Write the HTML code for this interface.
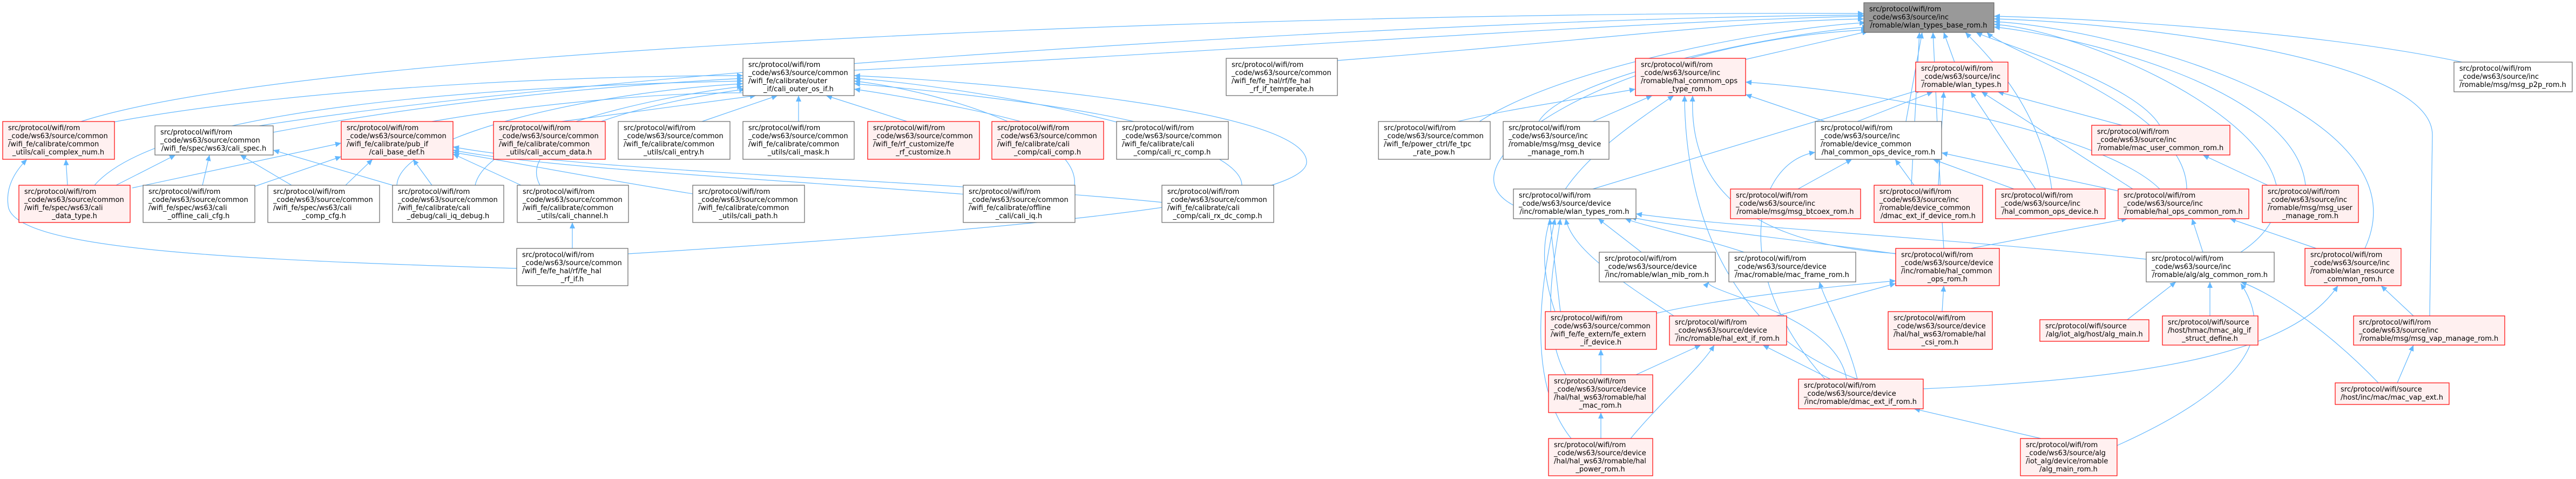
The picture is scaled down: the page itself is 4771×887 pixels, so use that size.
<!DOCTYPE html>
<html><head><meta charset="utf-8">
<style>
html,body{margin:0;padding:0;background:#fff;}
svg{display:block;}
text{font-family:"DejaVu Sans","Liberation Sans",sans-serif;font-size:13px;fill:#000;}
.w{fill:#fff;stroke:#666;stroke-width:1.2;}
.r{fill:#fff0f0;stroke:#f00;stroke-width:1.2;}
.g{fill:#999;stroke:#666;stroke-width:1.2;}
.e{fill:none;stroke:#63b8ff;stroke-width:1.2;marker-end:url(#ah);}
</style></head>
<body>
<svg width="4771" height="887" viewBox="0 0 4771 887" xmlns="http://www.w3.org/2000/svg">
<defs><marker id="ah" markerUnits="userSpaceOnUse" markerWidth="12" markerHeight="10" refX="11" refY="5" orient="auto"><path d="M0,0 L11,5 L0,10 z" fill="#63b8ff"/></marker></defs>

<g>
<!-- edges to A -->
<path class="e" d="M1582 130 C2200 100 3000 40 3452 30"/>
<path class="e" d="M2477 112 C2900 80 3200 40 3452 35"/>
<path class="e" d="M3233 110 L3460 58"/>
<path class="e" d="M3620 115 L3600 60"/>
<path class="e" d="M4560 115 C4300 60 3900 35 3693 30"/>
<path class="e" d="M150 225 C600 80 2500 20 3452 25"/>
<path class="e" d="M480 233 C1200 120 2800 30 3452 28"/>
<path class="e" d="M2740 225 C2900 120 3300 50 3455 42"/>
<path class="e" d="M2850 225 C2900 140 3300 60 3460 50"/>
<path class="e" d="M3530 225 L3560 60"/>
<path class="e" d="M4000 232 C3950 150 3700 80 3660 60"/>
<path class="e" d="M2803 380 C2650 300 3000 80 3458 55"/>
<path class="e" d="M3800 350 C3780 200 3680 100 3640 60"/>
<path class="e" d="M4050 350 C4050 200 3720 100 3680 60"/>
<path class="e" d="M4270 343 C4250 150 3800 60 3693 50"/>
<path class="e" d="M4150 467 C4400 300 3900 60 3693 45"/>
<path class="e" d="M4380 460 C4500 200 3900 50 3693 40"/>
<path class="e" d="M4500 585 L4505 250 C4505 100 3900 40 3693 35"/>
<path class="e" d="M3600 460 C3590 300 3585 150 3580 60"/>
<path class="e" d="M3540 343 C3545 250 3550 150 3555 60"/>
<!-- edges to B -->
<path class="e" d="M200 228 C500 170 1000 140 1376 140"/>
<path class="e" d="M506 245 C800 190 1100 160 1376 145"/>
<path class="e" d="M800 225 C1000 190 1250 170 1390 172"/>
<path class="e" d="M1040 225 L1400 177"/>
<path class="e" d="M1300 225 L1440 177"/>
<path class="e" d="M1479 225 L1479 177"/>
<path class="e" d="M1680 225 L1530 177"/>
<path class="e" d="M1890 225 C1800 200 1650 175 1582 165"/>
<path class="e" d="M2100 225 C1950 190 1700 165 1582 155"/>
<path class="e" d="M175 343 C300 200 900 160 1376 150"/>
<path class="e" d="M735 343 C740 250 1100 170 1376 155"/>
<path class="e" d="M880 343 C900 250 1200 180 1376 160"/>
<path class="e" d="M1000 343 C950 250 1200 190 1380 165"/>
<path class="e" d="M1990 343 C2000 250 1750 170 1582 150"/>
<path class="e" d="M2300 343 C2300 250 1800 160 1582 145"/>
<path class="e" d="M1163 470 C1800 430 2420 380 2420 300 C2420 200 1800 150 1582 140"/>
<!-- to G -->
<path class="e" d="M125 343 L122 295"/>
<path class="e" d="M957 497 C400 480 20 460 15 380 C10 340 35 310 50 295"/>
<!-- to H -->
<path class="e" d="M215 343 L325 287"/>
<path class="e" d="M375 343 L388 287"/>
<path class="e" d="M540 343 L445 287"/>
<path class="e" d="M727 343 L506 278"/>
<!-- to I -->
<path class="e" d="M245 348 L632 265"/>
<path class="e" d="M472 345 L632 290"/>
<path class="e" d="M640 343 L690 295"/>
<path class="e" d="M800 343 L765 295"/>
<path class="e" d="M965 343 L839 285"/>
<path class="e" d="M1290 360 C1100 330 950 300 839 282"/>
<path class="e" d="M1790 360 C1400 330 1000 310 839 278"/>
<path class="e" d="M2155 375 C1700 330 1100 320 839 272"/>
<path class="e" d="M1060 460 L1060 412"/>
<!-- to D -->
<path class="e" d="M2700 225 C2800 200 2950 180 3029 165"/>
<path class="e" d="M2950 225 L3060 177"/>
<path class="e" d="M3380 225 L3233 175"/>
<path class="e" d="M4000 350 C3900 250 3500 170 3233 152"/>
<path class="e" d="M3440 702 C3150 600 3120 300 3120 177"/>
<path class="e" d="M3520 470 C3180 450 3130 300 3135 177"/>
<path class="e" d="M2880 577 C2820 400 2900 310 3100 177"/>
<!-- to E -->
<path class="e" d="M2950 350 L3560 165"/>
<path class="e" d="M3440 225 L3580 170"/>
<path class="e" d="M3590 343 L3600 170"/>
<path class="e" d="M3770 350 L3650 170"/>
<path class="e" d="M3950 350 L3670 170"/>
<path class="e" d="M3930 232 L3700 170"/>
<!-- to R -->
<path class="e" d="M3330 350 L3430 295"/>
<path class="e" d="M3545 343 L3510 295"/>
<path class="e" d="M3730 350 L3580 295"/>
<path class="e" d="M3930 355 L3596 283"/>
<path class="e" d="M3380 702 C3200 500 3250 300 3362 282"/>
<!-- to S -->
<path class="e" d="M4200 343 L4080 287"/>
<!-- to AB -->
<path class="e" d="M3040 467 L2960 405"/>
<path class="e" d="M3230 467 C3150 440 3050 420 3010 405"/>
<path class="e" d="M3511 470 C3300 440 3100 420 3020 402"/>
<path class="e" d="M3975 480 C3600 440 3200 420 3030 396"/>
<path class="e" d="M2890 577 L2870 405"/>
<path class="e" d="M3100 585 C3000 520 2910 460 2900 405"/>
<path class="e" d="M2900 694 C2850 600 2880 480 2890 405"/>
<path class="e" d="M2910 812 C2820 700 2860 500 2880 405"/>
<!-- to AF -->
<path class="e" d="M3650 460 L3940 405"/>
<path class="e" d="M4080 467 L4060 405"/>
<path class="e" d="M4290 460 L4130 405"/>
<!-- to AK -->
<path class="e" d="M3068 580 C3200 550 3400 530 3511 520"/>
<path class="e" d="M3290 585 L3511 525"/>
<path class="e" d="M3597 577 L3600 529"/>
<!-- to AI AJ -->
<path class="e" d="M3420 702 C3400 580 3150 540 3165 522"/>
<path class="e" d="M3440 702 C3420 620 3380 560 3370 522"/>
<!-- to AL -->
<path class="e" d="M3940 592 L4030 522"/>
<path class="e" d="M4093 585 L4093 522"/>
<path class="e" d="M4405 709 C4300 600 4200 540 4150 522"/>
<path class="e" d="M3921 825 C4200 700 4200 600 4150 525"/>
<!-- to AM -->
<path class="e" d="M4470 585 L4410 529"/>
<path class="e" d="M3562 720 C4000 700 4250 650 4330 529"/>
<!-- to AN AO AS AT AU -->
<path class="e" d="M2965 694 L2965 647"/>
<path class="e" d="M3030 694 L3150 639"/>
<path class="e" d="M3020 812 C3080 740 3150 680 3175 639"/>
<path class="e" d="M3390 702 L3265 639"/>
<path class="e" d="M4440 709 L4470 639"/>
<path class="e" d="M2965 812 L2965 764"/>
<path class="e" d="M3780 812 L3545 757"/>
</g>

<!-- nodes -->
<g>
<rect class="g" x="3452" y="5" width="241" height="55"/>
<text x="3462" y="21">src/protocol/wifi/rom</text><text x="3462" y="36">_code/ws63/source/inc</text><text x="3572" y="51" text-anchor="middle">/romable/wlan_types_base_rom.h</text>

<rect class="w" x="1376" y="108" width="206" height="69"/>
<text x="1386" y="124">src/protocol/wifi/rom</text><text x="1386" y="139">_code/ws63/source/common</text><text x="1386" y="154">/wifi_fe/calibrate/outer</text><text x="1479" y="169" text-anchor="middle">_if/cali_outer_os_if.h</text>

<rect class="w" x="2271" y="108" width="206" height="69"/>
<text x="2281" y="124">src/protocol/wifi/rom</text><text x="2281" y="139">_code/ws63/source/common</text><text x="2281" y="154">/wifi_fe/fe_hal/rf/fe_hal</text><text x="2374" y="169" text-anchor="middle">_rf_if_temperate.h</text>

<rect class="r" x="3029" y="108" width="204" height="69"/>
<text x="3039" y="124">src/protocol/wifi/rom</text><text x="3039" y="139">_code/ws63/source/inc</text><text x="3039" y="154">/romable/hal_commom_ops</text><text x="3131" y="169" text-anchor="middle">_type_rom.h</text>

<rect class="r" x="3548" y="115" width="171" height="55"/>
<text x="3558" y="131">src/protocol/wifi/rom</text><text x="3558" y="146">_code/ws63/source/inc</text><text x="3633" y="161" text-anchor="middle">/romable/wlan_types.h</text>

<rect class="w" x="4545" y="115" width="219" height="55"/>
<text x="4555" y="131">src/protocol/wifi/rom</text><text x="4555" y="146">_code/ws63/source/inc</text><text x="4654" y="161" text-anchor="middle">/romable/msg/msg_p2p_rom.h</text>

<!-- row 3 -->
<rect class="r" x="5" y="225" width="207" height="70"/>
<text x="15" y="241">src/protocol/wifi/rom</text><text x="15" y="256">_code/ws63/source/common</text><text x="15" y="271">/wifi_fe/calibrate/common</text><text x="108" y="286" text-anchor="middle">_utils/cali_complex_num.h</text>

<rect class="w" x="287" y="233" width="219" height="54"/>
<text x="297" y="249">src/protocol/wifi/rom</text><text x="297" y="264">_code/ws63/source/common</text><text x="396" y="279" text-anchor="middle">/wifi_fe/spec/ws63/cali_spec.h</text>

<rect class="r" x="632" y="225" width="207" height="70"/>
<text x="642" y="241">src/protocol/wifi/rom</text><text x="642" y="256">_code/ws63/source/common</text><text x="642" y="271">/wifi_fe/calibrate/pub_if</text><text x="735" y="286" text-anchor="middle">/cali_base_def.h</text>

<rect class="r" x="914" y="225" width="207" height="70"/>
<text x="924" y="241">src/protocol/wifi/rom</text><text x="924" y="256">_code/ws63/source/common</text><text x="924" y="271">/wifi_fe/calibrate/common</text><text x="1017" y="286" text-anchor="middle">_utils/cali_accum_data.h</text>

<rect class="w" x="1145" y="225" width="207" height="70"/>
<text x="1155" y="241">src/protocol/wifi/rom</text><text x="1155" y="256">_code/ws63/source/common</text><text x="1155" y="271">/wifi_fe/calibrate/common</text><text x="1248" y="286" text-anchor="middle">_utils/cali_entry.h</text>

<rect class="w" x="1376" y="225" width="206" height="70"/>
<text x="1386" y="241">src/protocol/wifi/rom</text><text x="1386" y="256">_code/ws63/source/common</text><text x="1386" y="271">/wifi_fe/calibrate/common</text><text x="1479" y="286" text-anchor="middle">_utils/cali_mask.h</text>

<rect class="r" x="1607" y="225" width="207" height="70"/>
<text x="1617" y="241">src/protocol/wifi/rom</text><text x="1617" y="256">_code/ws63/source/common</text><text x="1617" y="271">/wifi_fe/rf_customize/fe</text><text x="1710" y="286" text-anchor="middle">_rf_customize.h</text>

<rect class="r" x="1837" y="225" width="207" height="70"/>
<text x="1847" y="241">src/protocol/wifi/rom</text><text x="1847" y="256">_code/ws63/source/common</text><text x="1847" y="271">/wifi_fe/calibrate/cali</text><text x="1940" y="286" text-anchor="middle">_comp/cali_comp.h</text>

<rect class="w" x="2068" y="225" width="207" height="70"/>
<text x="2078" y="241">src/protocol/wifi/rom</text><text x="2078" y="256">_code/ws63/source/common</text><text x="2078" y="271">/wifi_fe/calibrate/cali</text><text x="2171" y="286" text-anchor="middle">_comp/cali_rc_comp.h</text>

<rect class="w" x="2553" y="225" width="207" height="70"/>
<text x="2563" y="241">src/protocol/wifi/rom</text><text x="2563" y="256">_code/ws63/source/common</text><text x="2563" y="271">/wifi_fe/power_ctrl/fe_tpc</text><text x="2656" y="286" text-anchor="middle">_rate_pow.h</text>

<rect class="w" x="2784" y="225" width="196" height="70"/>
<text x="2794" y="241">src/protocol/wifi/rom</text><text x="2794" y="256">_code/ws63/source/inc</text><text x="2794" y="271">/romable/msg/msg_device</text><text x="2882" y="286" text-anchor="middle">_manage_rom.h</text>

<rect class="w" x="3362" y="225" width="234" height="70"/>
<text x="3372" y="241">src/protocol/wifi/rom</text><text x="3372" y="256">_code/ws63/source/inc</text><text x="3372" y="271">/romable/device_common</text><text x="3479" y="286" text-anchor="middle">/hal_common_ops_device_rom.h</text>

<rect class="r" x="3874" y="232" width="256" height="55"/>
<text x="3884" y="248">src/protocol/wifi/rom</text><text x="3884" y="263">_code/ws63/source/inc</text><text x="4002" y="278" text-anchor="middle">/romable/mac_user_common_rom.h</text>

<!-- row 4 -->
<rect class="r" x="35" y="343" width="206" height="69"/>
<text x="45" y="359">src/protocol/wifi/rom</text><text x="45" y="374">_code/ws63/source/common</text><text x="45" y="389">/wifi_fe/spec/ws63/cali</text><text x="138" y="404" text-anchor="middle">_data_type.h</text>

<rect class="w" x="265" y="343" width="207" height="69"/>
<text x="275" y="359">src/protocol/wifi/rom</text><text x="275" y="374">_code/ws63/source/common</text><text x="275" y="389">/wifi_fe/spec/ws63/cali</text><text x="368" y="404" text-anchor="middle">_offline_cali_cfg.h</text>

<rect class="w" x="496" y="343" width="207" height="69"/>
<text x="506" y="359">src/protocol/wifi/rom</text><text x="506" y="374">_code/ws63/source/common</text><text x="506" y="389">/wifi_fe/spec/ws63/cali</text><text x="600" y="404" text-anchor="middle">_comp_cfg.h</text>

<rect class="w" x="727" y="343" width="206" height="69"/>
<text x="737" y="359">src/protocol/wifi/rom</text><text x="737" y="374">_code/ws63/source/common</text><text x="737" y="389">/wifi_fe/calibrate/cali</text><text x="830" y="404" text-anchor="middle">_debug/cali_iq_debug.h</text>

<rect class="w" x="958" y="343" width="206" height="69"/>
<text x="968" y="359">src/protocol/wifi/rom</text><text x="968" y="374">_code/ws63/source/common</text><text x="968" y="389">/wifi_fe/calibrate/common</text><text x="1061" y="404" text-anchor="middle">_utils/cali_channel.h</text>

<rect class="w" x="1283" y="343" width="207" height="69"/>
<text x="1293" y="359">src/protocol/wifi/rom</text><text x="1293" y="374">_code/ws63/source/common</text><text x="1293" y="389">/wifi_fe/calibrate/common</text><text x="1386" y="404" text-anchor="middle">_utils/cali_path.h</text>

<rect class="w" x="1784" y="343" width="207" height="69"/>
<text x="1794" y="359">src/protocol/wifi/rom</text><text x="1794" y="374">_code/ws63/source/common</text><text x="1794" y="389">/wifi_fe/calibrate/offline</text><text x="1887" y="404" text-anchor="middle">_cali/cali_iq.h</text>

<rect class="w" x="2152" y="343" width="207" height="69"/>
<text x="2162" y="359">src/protocol/wifi/rom</text><text x="2162" y="374">_code/ws63/source/common</text><text x="2162" y="389">/wifi_fe/calibrate/cali</text><text x="2255" y="404" text-anchor="middle">_comp/cali_rx_dc_comp.h</text>

<rect class="w" x="2803" y="350" width="227" height="55"/>
<text x="2813" y="366">src/protocol/wifi/rom</text><text x="2813" y="381">_code/ws63/source/device</text><text x="2916" y="396" text-anchor="middle">/inc/romable/wlan_types_rom.h</text>

<rect class="r" x="3205" y="350" width="241" height="55"/>
<text x="3215" y="366">src/protocol/wifi/rom</text><text x="3215" y="381">_code/ws63/source/inc</text><text x="3325" y="396" text-anchor="middle">/romable/msg/msg_btcoex_rom.h</text>

<rect class="r" x="3471" y="343" width="201" height="69"/>
<text x="3481" y="359">src/protocol/wifi/rom</text><text x="3481" y="374">_code/ws63/source/inc</text><text x="3481" y="389">/romable/device_common</text><text x="3571" y="404" text-anchor="middle">/dmac_ext_if_device_rom.h</text>

<rect class="r" x="3696" y="350" width="203" height="55"/>
<text x="3706" y="366">src/protocol/wifi/rom</text><text x="3706" y="381">_code/ws63/source/inc</text><text x="3797" y="396" text-anchor="middle">/hal_common_ops_device.h</text>

<rect class="r" x="3923" y="350" width="242" height="55"/>
<text x="3933" y="366">src/protocol/wifi/rom</text><text x="3933" y="381">_code/ws63/source/inc</text><text x="4044" y="396" text-anchor="middle">/romable/hal_ops_common_rom.h</text>

<rect class="r" x="4190" y="343" width="178" height="69"/>
<text x="4200" y="359">src/protocol/wifi/rom</text><text x="4200" y="374">_code/ws63/source/inc</text><text x="4200" y="389">/romable/msg/msg_user</text><text x="4279" y="404" text-anchor="middle">_manage_rom.h</text>

<!-- row 5 -->
<rect class="w" x="957" y="460" width="206" height="69"/>
<text x="967" y="476">src/protocol/wifi/rom</text><text x="967" y="491">_code/ws63/source/common</text><text x="967" y="506">/wifi_fe/fe_hal/rf/fe_hal</text><text x="1060" y="521" text-anchor="middle">_rf_if.h</text>

<rect class="w" x="2962" y="467" width="215" height="55"/>
<text x="2972" y="483">src/protocol/wifi/rom</text><text x="2972" y="498">_code/ws63/source/device</text><text x="3069" y="513" text-anchor="middle">/inc/romable/wlan_mib_rom.h</text>

<rect class="w" x="3202" y="467" width="235" height="55"/>
<text x="3212" y="483">src/protocol/wifi/rom</text><text x="3212" y="498">_code/ws63/source/device</text><text x="3319" y="513" text-anchor="middle">/mac/romable/mac_frame_rom.h</text>

<rect class="r" x="3511" y="460" width="192" height="69"/>
<text x="3521" y="476">src/protocol/wifi/rom</text><text x="3521" y="491">_code/ws63/source/device</text><text x="3521" y="506">/inc/romable/hal_common</text><text x="3607" y="521" text-anchor="middle">_ops_rom.h</text>

<rect class="w" x="3975" y="467" width="237" height="55"/>
<text x="3985" y="483">src/protocol/wifi/rom</text><text x="3985" y="498">_code/ws63/source/inc</text><text x="4093" y="513" text-anchor="middle">/romable/alg/alg_common_rom.h</text>

<rect class="r" x="4269" y="460" width="178" height="69"/>
<text x="4279" y="476">src/protocol/wifi/rom</text><text x="4279" y="491">_code/ws63/source/inc</text><text x="4279" y="506">/romable/wlan_resource</text><text x="4358" y="521" text-anchor="middle">_common_rom.h</text>

<!-- row 6 -->
<rect class="r" x="2862" y="577" width="206" height="70"/>
<text x="2872" y="593">src/protocol/wifi/rom</text><text x="2872" y="608">_code/ws63/source/common</text><text x="2872" y="623">/wifi_fe/fe_extern/fe_extern</text><text x="2965" y="638" text-anchor="middle">_if_device.h</text>

<rect class="r" x="3092" y="585" width="217" height="54"/>
<text x="3102" y="601">src/protocol/wifi/rom</text><text x="3102" y="616">_code/ws63/source/device</text><text x="3200" y="631" text-anchor="middle">/inc/romable/hal_ext_if_rom.h</text>

<rect class="r" x="3497" y="577" width="193" height="70"/>
<text x="3507" y="593">src/protocol/wifi/rom</text><text x="3507" y="608">_code/ws63/source/device</text><text x="3507" y="623">/hal/hal_ws63/romable/hal</text><text x="3593" y="638" text-anchor="middle">_csi_rom.h</text>

<rect class="r" x="3778" y="592" width="202" height="40"/>
<text x="3788" y="608">src/protocol/wifi/source</text><text x="3879" y="623" text-anchor="middle">/alg/iot_alg/host/alg_main.h</text>

<rect class="r" x="4005" y="585" width="177" height="54"/>
<text x="4015" y="601">src/protocol/wifi/source</text><text x="4015" y="616">/host/hmac/hmac_alg_if</text><text x="4093" y="631" text-anchor="middle">_struct_define.h</text>

<rect class="r" x="4359" y="585" width="280" height="54"/>
<text x="4369" y="601">src/protocol/wifi/rom</text><text x="4369" y="616">_code/ws63/source/inc</text><text x="4499" y="631" text-anchor="middle">/romable/msg/msg_vap_manage_rom.h</text>

<!-- row 7 -->
<rect class="r" x="2868" y="694" width="193" height="70"/>
<text x="2878" y="710">src/protocol/wifi/rom</text><text x="2878" y="725">_code/ws63/source/device</text><text x="2878" y="740">/hal/hal_ws63/romable/hal</text><text x="2964" y="755" text-anchor="middle">_mac_rom.h</text>

<rect class="r" x="3331" y="702" width="231" height="55"/>
<text x="3341" y="718">src/protocol/wifi/rom</text><text x="3341" y="733">_code/ws63/source/device</text><text x="3446" y="748" text-anchor="middle">/inc/romable/dmac_ext_if_rom.h</text>

<rect class="r" x="4325" y="709" width="211" height="40"/>
<text x="4335" y="725">src/protocol/wifi/source</text><text x="4430" y="740" text-anchor="middle">/host/inc/mac/mac_vap_ext.h</text>

<!-- row 8 -->
<rect class="r" x="2868" y="812" width="193" height="69"/>
<text x="2878" y="828">src/protocol/wifi/rom</text><text x="2878" y="843">_code/ws63/source/device</text><text x="2878" y="858">/hal/hal_ws63/romable/hal</text><text x="2964" y="873" text-anchor="middle">_power_rom.h</text>

<rect class="r" x="3742" y="812" width="179" height="69"/>
<text x="3752" y="828">src/protocol/wifi/rom</text><text x="3752" y="843">_code/ws63/source/alg</text><text x="3752" y="858">/iot_alg/device/romable</text><text x="3831" y="873" text-anchor="middle">/alg_main_rom.h</text>
</g>
</svg>
</body></html>
